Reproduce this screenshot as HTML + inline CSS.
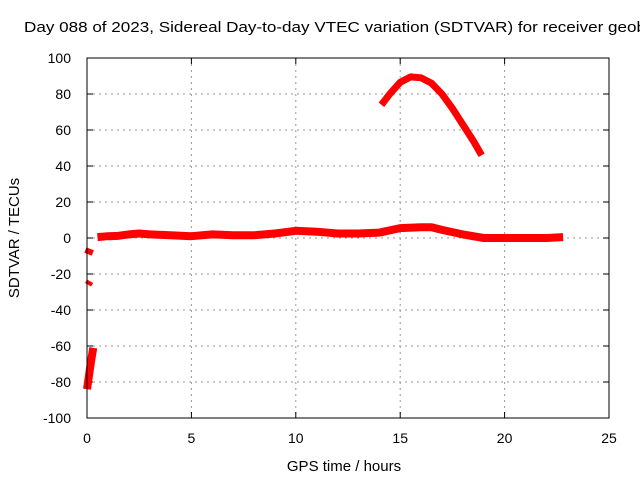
<!DOCTYPE html>
<html><head><meta charset="utf-8"><style>
body{margin:0;background:#fff}
svg{display:block;font-family:"Liberation Sans",sans-serif}
</style></head><body>
<svg id="c" width="640" height="480">
<text x="24" y="32" font-size="15" fill="#000" textLength="622" lengthAdjust="spacingAndGlyphs">Day 088 of 2023, Sidereal Day-to-day VTEC variation (SDTVAR) for receiver geob</text>
<g id="grid"></g><g id="ticks"></g><g id="series"></g>
<rect x="87" y="58" width="522" height="360" fill="none" stroke="#000" stroke-width="1"/>
<text x="344" y="471" font-size="15" text-anchor="middle">GPS time / hours</text>
<text transform="translate(19,238) rotate(-90)" font-size="15" text-anchor="middle">SDTVAR / TECUs</text>
</svg>
<script>
const xTicks=[0,5,10,15,20,25];
const yTicks=[-100,-80,-60,-40,-20,0,20,40,60,80,100];
const mainHours=[0.5,1,1.5,2,2.5,3,4,5,6,7,8,9,10,11,12,13,14,15,16,16.5,17,18,19,20,21,22,22.8];
const mainValues=[0.5,1,1.2,2,2.5,2,1.5,1,2,1.5,1.5,2.5,4,3.5,2.5,2.5,3,5.5,6,6,4.5,2,0,0,0,0,0.5];
const arcHours=[14.1,14.5,15,15.5,16,16.5,17,17.5,18,18.5,18.9];
const arcValues=[74,80,86.5,89.5,89,86,80,72,63,54,46];
const earlyA_hours=[0.05,0.15];const earlyA_values=[-9,-6];
const earlyB_hours=[0.05,0.15];const earlyB_values=[-26,-24];
const earlyC_hours=[0.0,0.1,0.2,0.3];const earlyC_values=[-84,-76,-68,-61];
const X=h=>87+h*522/25, Y=v=>238-v*1.8;
const ns="http://www.w3.org/2000/svg";
function mk(t,a,p){const e=document.createElementNS(ns,t);for(const k in a)e.setAttribute(k,a[k]);p.appendChild(e);return e;}
const g=document.getElementById('grid'),tk=document.getElementById('ticks'),s=document.getElementById('series');
xTicks.forEach(t=>{
 if(t>0&&t<25){const l=mk('line',{x1:X(t),x2:X(t),y1:58,y2:418,stroke:'#999','stroke-dasharray':'2,4'},g);
 }
 const tl=mk('text',{x:X(t),y:443,'font-size':14,'text-anchor':'middle'},tk);tl.textContent=t;
 
 mk('line',{x1:X(t),x2:X(t),y1:418,y2:412,stroke:'#000'},tk);mk('line',{x1:X(t),x2:X(t),y1:58,y2:64,stroke:'#000'},tk);
});
yTicks.forEach(t=>{
 if(t>-100&&t<100){const l=mk('line',{x1:87,x2:609,y1:Y(t),y2:Y(t),stroke:'#999','stroke-dasharray':'2,4'},g);
 }
 const tl=mk('text',{x:71,y:Y(t)+5,'font-size':14,'text-anchor':'end'},tk);tl.textContent=t;
 
 mk('line',{x1:87,x2:93,y1:Y(t),y2:Y(t),stroke:'#000'},tk);mk('line',{x1:609,x2:603,y1:Y(t),y2:Y(t),stroke:'#000'},tk);
});
function line(hs,vs,name,w){const p=mk('polyline',{points:hs.map((h,i)=>X(h)+','+Y(vs[i])).join(' '),fill:'none',stroke:'#f00','stroke-width':w,'stroke-linejoin':'round'},s);
 }
line(mainHours,mainValues,'sdtvar-main-series',8);
line(arcHours,arcValues,'sdtvar-arc-series',7);
line(earlyA_hours,earlyA_values,'sdtvar-early-a',8);
line(earlyB_hours,earlyB_values,'sdtvar-early-b',7);
line(earlyC_hours,earlyC_values,'sdtvar-early-c',8);
</script>
</body></html>
